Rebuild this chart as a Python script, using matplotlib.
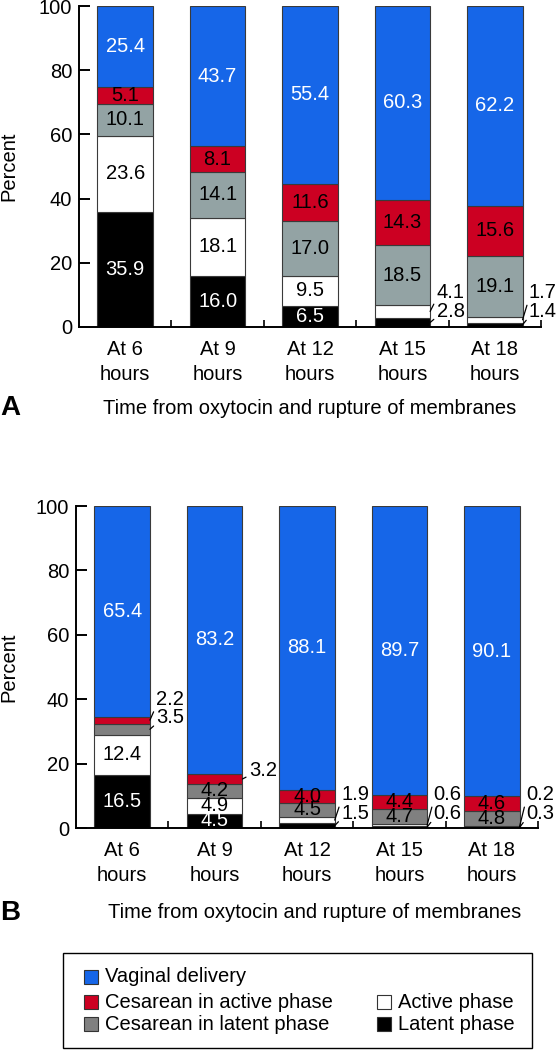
import matplotlib
matplotlib.use("Agg")
import matplotlib.pyplot as plt
from matplotlib.patches import Rectangle

plt.rcParams['font.family'] = ['Liberation Sans', 'DejaVu Sans']

# ---------------- data ----------------
hours = [6, 9, 12, 15, 18]
categories = [f"At {h}\nhours" for h in hours]
series_names = ["Latent phase", "Active phase", "Cesarean in latent phase",
                "Cesarean in active phase", "Vaginal delivery"]

# Panel A (bottom -> top)
latent_A = [35.9, 16.0, 6.5, 2.8, 1.4]
active_A = [23.6, 18.1, 9.5, 4.1, 1.7]
ces_latent_A = [10.1, 14.1, 17.0, 18.5, 19.1]
ces_active_A = [5.1, 8.1, 11.6, 14.3, 15.6]
vaginal_A = [25.4, 43.7, 55.4, 60.3, 62.2]

# Panel B (bottom -> top)
latent_B = [16.5, 4.5, 1.5, 0.6, 0.3]
active_B = [12.4, 4.9, 1.9, 0.6, 0.2]
ces_latent_B = [3.5, 4.2, 4.5, 4.7, 4.8]
ces_active_B = [2.2, 3.2, 4.0, 4.4, 4.6]
vaginal_B = [65.4, 83.2, 88.1, 89.7, 90.1]

# ---------------- styles ----------------
BLUE = "#1666E8"
RED = "#CC0022"
GRAY_A = "#93A3A4"
GRAY_B = "#808080"
colors_A = ["black", "white", GRAY_A, RED, BLUE]
colors_B = ["black", "white", GRAY_B, RED, BLUE]
text_colors = ["white", "black", "black", "black", "white"]

# callouts: (bar index, series index, label y position)
callouts_A = [(3, 1, 10.6), (3, 0, 4.9), (4, 1, 10.6), (4, 0, 4.9)]
callouts_B = [(0, 3, 39.8), (0, 2, 34.2), (1, 3, 18.0),
              (2, 1, 10.3), (2, 0, 4.6), (3, 1, 10.3), (3, 0, 4.6),
              (4, 1, 10.3), (4, 0, 4.6)]

FS = 14.5
W, H = 557, 1050
fig = plt.figure(figsize=(W / 100, H / 100), dpi=100)


def px_rect(l, t, r, b):
    return [l / W, 1 - b / H, (r - l) / W, (b - t) / H]


def draw_panel(ax, series, colors, callouts, left_px):
    x = list(range(len(categories)))
    width = 0.6
    bottoms = [0.0] * len(x)
    seg = []
    for vals, col in zip(series, colors):
        ax.bar(x, vals, width=width, bottom=bottoms, color=col,
               edgecolor="#3a3a3a", linewidth=0.8, zorder=2)
        seg.append([(b, v) for b, v in zip(bottoms, vals)])
        bottoms = [b + v for b, v in zip(bottoms, vals)]
    called = {(i, s) for i, s, _ in callouts}
    for s, (segs, tc) in enumerate(zip(seg, text_colors)):
        for i, (b, v) in enumerate(segs):
            if (i, s) in called:
                continue
            ax.text(i, b + v / 2, f"{v:.1f}", ha="center", va="center",
                    fontsize=FS, color=tc, zorder=3)
    for i, s, ty in callouts:
        b, v = seg[s][i]
        xr = i + width / 2
        ax.annotate(f"{v:.1f}", xy=(xr, b + v / 2), xytext=(xr + 0.07, ty),
                    ha="left", va="center", fontsize=FS,
                    arrowprops=dict(arrowstyle="-", lw=0.9, color="black",
                                    shrinkA=0, shrinkB=0, relpos=(0, 0.2)),
                    zorder=3)
    ax.set_xlim(-0.5, len(x) - 0.5)
    ax.set_ylim(0, 100)
    ax.set_yticks([0, 20, 40, 60, 80, 100])
    ax.set_xticks(x, categories)
    ax.set_xticks([i + 0.5 for i in x], minor=True)
    for sp in ["top", "right"]:
        ax.spines[sp].set_visible(False)
    for sp in ["left", "bottom"]:
        ax.spines[sp].set_linewidth(1.4)
    ax.tick_params(axis="y", direction="in", length=8, width=1.4,
                   labelsize=FS, pad=5)
    ax.tick_params(axis="x", which="major", length=0, labelsize=FS, pad=9.5)
    ax.tick_params(axis="x", which="minor", direction="in", length=5,
                   width=1.2)
    for lab in ax.get_xticklabels():
        lab.set_linespacing(1.42)
    ax.set_ylabel("Percent", fontsize=FS, va="center")
    ax.yaxis.set_label_coords((9 - left_px) / 462, 0.5)


axA = fig.add_axes(px_rect(79, 6, 541, 327))
draw_panel(axA, [latent_A, active_A, ces_latent_A, ces_active_A, vaginal_A],
           colors_A, callouts_A, 79)
axB = fig.add_axes(px_rect(76, 506, 538, 828))
draw_panel(axB, [latent_B, active_B, ces_latent_B, ces_active_B, vaginal_B],
           colors_B, callouts_B, 76)

# overlay in pixel coordinates for labels and legend
ov = fig.add_axes([0, 0, 1, 1])
ov.set_xlim(0, W)
ov.set_ylim(H, 0)
ov.axis("off")
ov.patch.set_alpha(0)

xlabel = "Time from oxytocin and rupture of membranes"
ov.text(310, 408, xlabel, ha="center", va="center", fontsize=FS)
ov.text(315, 913, xlabel, ha="center", va="center", fontsize=FS)
ov.text(0, 408, "A", ha="left", va="center", fontsize=20, fontweight="bold")
ov.text(0, 913, "B", ha="left", va="center", fontsize=20, fontweight="bold")

# legend
ov.add_patch(Rectangle((63, 953), 532 - 63, 1048 - 953, fill=False,
                       edgecolor="black", linewidth=1.0))
legend_items = [
    (series_names[4], BLUE, 84, 977),
    (series_names[3], RED, 84, 1002),
    (series_names[2], GRAY_B, 84, 1024),
    (series_names[1], "white", 377, 1002),
    (series_names[0], "black", 377, 1024),
]
for name, col, lx, ly in legend_items:
    ov.add_patch(Rectangle((lx, ly - 7), 14, 14, facecolor=col,
                           edgecolor="#333333", linewidth=0.8))
    ov.text(lx + 21, ly, name, ha="left", va="center", fontsize=FS)

fig.savefig("out.png", dpi=100)
